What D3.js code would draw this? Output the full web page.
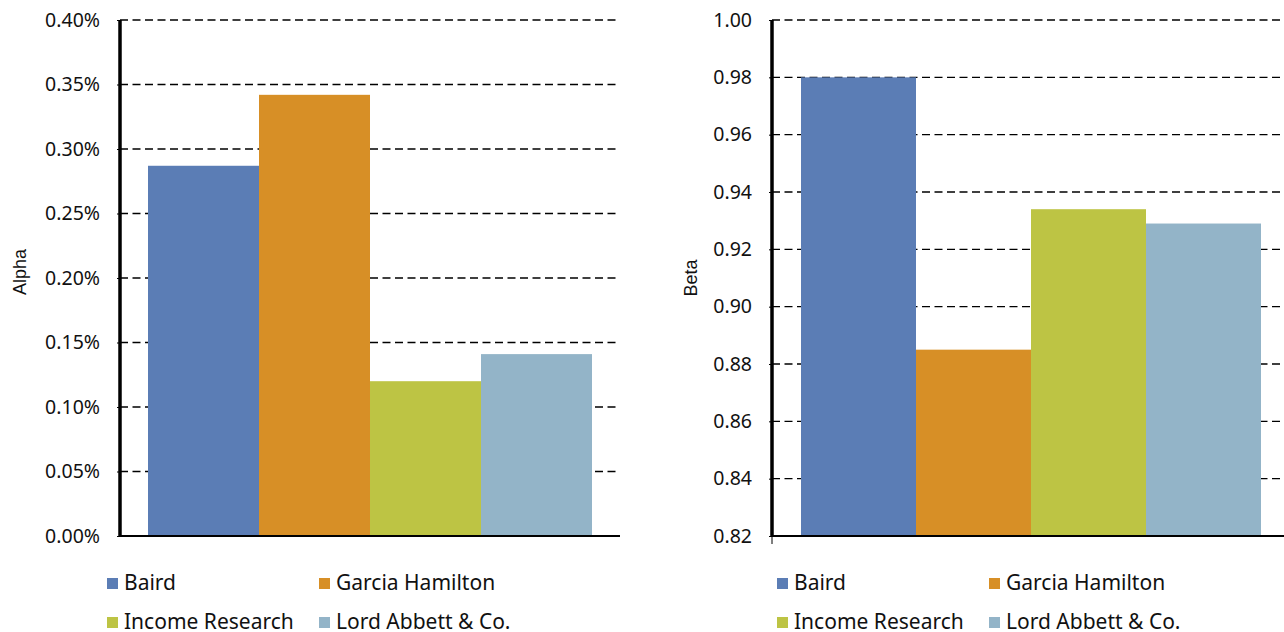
<!DOCTYPE html>
<html><head><meta charset="utf-8">
<script src="https://cdn.jsdelivr.net/npm/d3@7"></script>
<style>
body{margin:0;background:#fff;}
svg{display:block;font-family:"Noto Sans",sans-serif;}
</style></head>
<body>
<svg id="c" width="1284" height="632"></svg>
<script>
const managers = ["Baird","Garcia Hamilton","Income Research","Lord Abbett & Co."];
const colors = ["#5B7DB5","#D78F26","#BDC444","#93B4C8"];
const alphaValues = [0.287, 0.342, 0.120, 0.141];   // percent
const betaValues = [0.980, 0.885, 0.934, 0.929];
const alphaTicks = [0,0.05,0.10,0.15,0.20,0.25,0.30,0.35,0.40];
const betaTicks = [0.82,0.84,0.86,0.88,0.90,0.92,0.94,0.96,0.98,1.00];

const svg = d3.select("#c");
const plotTop = 20, plotBottom = 536;

function panel(opts){
  const g = svg.append("g");
  const y = d3.scaleLinear().domain(opts.domain).range([plotBottom, plotTop]);
  const x = d3.scaleBand().domain(managers).range([opts.x0 + opts.pad, opts.x1 - opts.pad]).padding(0);
  g.selectAll("line.grid").data(opts.ticks.slice(1)).join("line")
    .attr("x1", opts.x0).attr("x2", opts.gridEnd)
    .attr("y1", d=>y(d)).attr("y2", d=>y(d))
    .attr("stroke","#000").attr("stroke-width",1.3).attr("stroke-dasharray","8,4.5");
  g.selectAll("rect.bar").data(opts.values).join("rect")
    .attr("x",(d,i)=>x(managers[i])).attr("width",x.bandwidth())
    .attr("y",d=>y(d)).attr("height",d=>plotBottom-y(d))
    .attr("fill",(d,i)=>colors[i]);
  const ax = g.append("g").attr("transform",`translate(${opts.x0},0)`)
    .call(d3.axisLeft(y).tickValues(opts.ticks).tickFormat(opts.fmt).tickSize(3).tickPadding(17));
  ax.select(".domain").remove();
  ax.selectAll(".tick line").attr("stroke","#000");
  ax.selectAll("text").attr("font-size",19.5).attr("font-family","'Noto Sans',sans-serif").attr("fill","#111");
  g.append("line").attr("x1",opts.x0).attr("x2",opts.x0).attr("y1",plotTop).attr("y2",plotBottom+1)
    .attr("stroke","#000").attr("stroke-width",3.5);
  g.append("line").attr("x1",opts.x0).attr("x2",opts.x1).attr("y1",plotBottom).attr("y2",plotBottom)
    .attr("stroke","#000").attr("stroke-width",2);
  if(opts.xtick){
    g.append("line").attr("x1",opts.x0).attr("x2",opts.x0).attr("y1",plotBottom).attr("y2",plotBottom+8)
      .attr("stroke","#000").attr("stroke-width",1);
  }
  g.append("text").attr("transform",`translate(${opts.titleX},${opts.titleY}) rotate(-90)`)
    .attr("text-anchor","middle").attr("font-size",18)
    .attr("font-family","'Liberation Sans',Arial,sans-serif").attr("fill","#111").text(opts.title);
  const pos = [[opts.lx0,583],[opts.lx1,583],[opts.lx0,622],[opts.lx1,622]];
  const lg = g.selectAll("g.leg").data(managers).join("g")
    .attr("transform",(d,i)=>`translate(${pos[i][0]},${pos[i][1]})`);
  lg.append("rect").attr("x",0).attr("y",-5).attr("width",11).attr("height",11)
    .attr("fill",(d,i)=>colors[i]);
  lg.append("text").attr("x",17).attr("y",0).attr("dy","0.35em")
    .attr("font-size",21).attr("fill","#111").text(d=>d);
}

panel({domain:[0,0.40], ticks:alphaTicks, values:alphaValues, fmt:d=>d.toFixed(2)+"%",
  x0:120, x1:620, pad:28, gridEnd:620, title:"Alpha", titleX:26, titleY:272, lx0:107, lx1:319, xtick:false});
panel({domain:[0.82,1.00], ticks:betaTicks, values:betaValues, fmt:d=>d.toFixed(2),
  x0:772, x1:1290, pad:29, gridEnd:1290, title:"Beta", titleX:697, titleY:278, lx0:777, lx1:989, xtick:true});
</script>
</body></html>
